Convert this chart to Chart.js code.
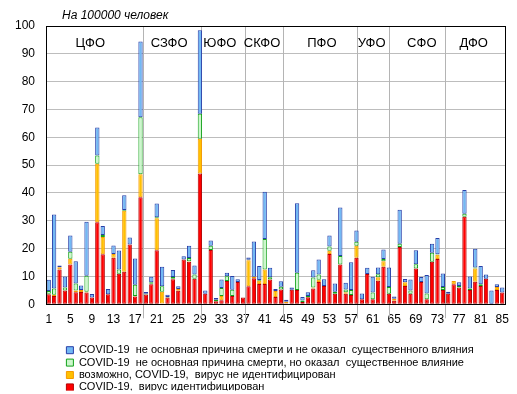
<!DOCTYPE html>
<html>
<head>
<meta charset="utf-8">
<script src="https://cdn.jsdelivr.net/npm/chart.js@4/dist/chart.umd.min.js"></script>
<style>
  html, body { margin: 0; padding: 0; background: #fff; }
  canvas { display: block; }
</style>
</head>
<body>
<canvas id="chart" width="517" height="394"></canvas>
<script>
// region numbers 1..85
const regions = [
    1, 2, 3, 4, 5, 6, 7, 8, 9, 10, 11, 12, 13, 14, 15, 16, 17, 18, 19, 20,
    21, 22, 23, 24, 25, 26, 27, 28, 29, 30, 31, 32, 33, 34, 35, 36, 37, 38, 39, 40,
    41, 42, 43, 44, 45, 46, 47, 48, 49, 50, 51, 52, 53, 54, 55, 56, 57, 58, 59, 60,
    61, 62, 63, 64, 65, 66, 67, 68, 69, 70, 71, 72, 73, 74, 75, 76, 77, 78, 79, 80,
    81, 82, 83, 84, 85
];

// COVID-19, вирус идентифицирован
const identified = [
    3.6, 3.0, 12.5, 5.0, 14.3, 4.3, 4.4, 4.2, 2.4, 29.5,
    18.0, 3.6, 16.7, 11.0, 11.7, 21.5, 2.8, 38.5, 3.5, 7.2,
    19.4, 0.3, 2.4, 9.0, 4.9, 16.1, 15.3, 9.2, 47.0, 3.8,
    19.5, 1.1, 1.5, 8.4, 3.0, 8.0, 2.4, 6.5, 9.4, 7.3,
    7.3, 8.9, 2.6, 5.3, 0.4, 5.2, 5.1, 0.8, 2.5, 5.7,
    8.0, 6.6, 18.1, 3.8, 14.3, 3.8, 3.3, 16.7, 1.8, 10.9,
    1.8, 8.5, 13.5, 3.8, 1.3, 20.6, 6.6, 3.8, 12.9, 8.0,
    1.8, 15.3, 16.3, 5.1, 3.8, 7.2, 6.0, 31.5, 5.1, 8.1,
    6.6, 9.2, 0, 5.1, 4.2
];

// возможно, COVID-19, вирус не идентифицирован
const possible = [
    0.2, 0.4, 0.8, 0, 2.1, 0.7, 0.7, 0.3, 0, 21.0,
    6.2, 0, 1.4, 0, 21.9, 0, 0.2, 8.2, 0, 0.2,
    11.5, 4.2, 0, 0.2, 0.6, 0, 0.2, 0, 12.5, 0,
    0, 0, 1.5, 0, 0, 0, 0, 9.3, 0.5, 1.2,
    5.2, 0, 2.2, 0, 0.5, 0, 0, 0, 0, 0.3,
    0.8, 0, 1.1, 0, 0, 0.5, 0, 4.3, 0, 0,
    0, 1.2, 2.0, 0, 0.7, 0, 1.3, 0, 0, 0,
    0, 0, 1.5, 0, 0, 1.2, 0, 0, 0, 4.8,
    0, 0, 0, 1.1, 0
];

// не основная причина, но оказал существенное влияние
const contributed = [
    1.0, 2.3, 0, 1.0, 2.5, 2.5, 0, 5.8, 0, 3.0,
    0.7, 0, 0, 1.5, 0.3, 0, 4.0, 20.5, 0.3, 0.5,
    0.4, 2.0, 0.2, 0.6, 0, 0, 1.1, 1.5, 9.0, 0,
    1.5, 0.5, 2.9, 1.7, 2.2, 0, 0, 0.2, 0, 0.2,
    11.0, 0.8, 0, 1.0, 0, 0, 6.2, 0.6, 0.5, 3.6,
    1.9, 0, 1.6, 0.7, 3.1, 1.0, 1.8, 1.5, 0, 0,
    2.4, 1.1, 0.8, 2.4, 0, 1.2, 0, 1.2, 1.5, 0,
    2.1, 3.2, 0.2, 1.1, 0, 0, 0.6, 1.0, 0.6, 0.3,
    0.6, 0, 0, 0, 0
];

// не основная причина и не оказал существенного влияния
const noInfluence = [
    4.0, 26.6, 0.6, 4.0, 5.8, 8.0, 1.7, 19.4, 1.3, 10.0,
    3.2, 1.9, 3.0, 6.8, 5.3, 2.5, 9.5, 27.2, 0.6, 2.0,
    4.9, 7.0, 0.8, 2.5, 1.0, 1.2, 4.4, 3.2, 30.0, 1.2,
    1.9, 0.7, 3.0, 1.2, 5.0, 1.0, 0, 0.8, 12.7, 5.1,
    16.9, 3.4, 0.7, 2.0, 0.7, 0.8, 25.0, 1.2, 1.3, 2.6,
    5.4, 2.4, 3.9, 3.0, 17.4, 2.4, 10.0, 4.0, 2.1, 2.2,
    5.7, 2.4, 3.4, 7.0, 0.8, 12.2, 1.2, 3.9, 5.0, 1.8,
    6.6, 3.3, 5.8, 4.9, 0.7, 0, 1.3, 8.6, 4.3, 6.8,
    6.6, 1.5, 5.0, 1.0, 1.8
];

// federal districts: name, where the name sits, where the dividing line sits (region numbers)
const districts = ['ЦФО', 'СЗФО', 'ЮФО', 'СКФО', 'ПФО', 'УФО', 'СФО', 'ДФО'];
const districtLabelAt = [8.7, 23.3, 32.7, 40.5, 51.6, 60.8, 70.1, 79.7];
const districtBorders = [18.4, 29.2, 37.3, 44.4, 58.1, 64.0, 74.4];

const FONT = 'Arial, "Liberation Sans", sans-serif';

const decor = {
    id: 'decor',
    afterLayout(chart) {
        chart.legend.left = 65;
    },
    beforeDatasetsDraw(chart) {
        const {ctx, chartArea: a, scales: {x}} = chart;
        ctx.save();
        ctx.strokeStyle = '#b4b4b4';
        ctx.lineWidth = 1;
        districtBorders.forEach(n => {
            const px = Math.round(x.getPixelForValue(n - 1)) + 0.5;
            ctx.beginPath();
            ctx.moveTo(px, a.top);
            ctx.lineTo(px, a.bottom + 14);
            ctx.stroke();
        });
        ctx.restore();
    },
    afterDraw(chart) {
        const {ctx, chartArea: a, scales: {x}} = chart;
        ctx.save();
        ctx.strokeStyle = '#000';
        ctx.lineWidth = 1;
        ctx.strokeRect(Math.round(a.left) + 0.5, Math.round(a.top) + 0.5,
            Math.round(a.right - a.left), Math.round(a.bottom - a.top));

        ctx.fillStyle = '#000';
        ctx.textBaseline = 'middle';
        ctx.textAlign = 'center';
        ctx.font = '13px ' + FONT;
        districts.forEach((name, i) => {
            ctx.fillText(name, x.getPixelForValue(districtLabelAt[i] - 1), a.top + 17);
        });

        ctx.textAlign = 'left';
        ctx.font = 'italic 12px ' + FONT;
        ctx.fillText('На 100000 человек', a.left + 16, a.top - 10);
        ctx.restore();
    }
};

const ctx = document.getElementById('chart').getContext('2d');

function series(label, values, fill, edge) {
    return {
        label: label,
        data: values.map(v => v || null),
        backgroundColor: fill,
        borderColor: edge,
        borderWidth: 1,
        borderSkipped: false,
        categoryPercentage: 1.0,
        barPercentage: 0.8
    };
}

new Chart(ctx, {
    type: 'bar',
    data: {
        labels: regions,
        datasets: [
            series('COVID-19,  вирус идентифицирован', identified, '#ff0000', '#b40000'),
            series('возможно, COVID-19,  вирус не идентифицирован', possible, '#ffc000', '#f59a00'),
            series('COVID-19  не основная причина смерти, но оказал  существенное влияние', contributed, '#ccf7cc', '#13a21a'),
            series('COVID-19  не основная причина смерти и не оказал  существенного влияния', noInfluence, '#72b8f4', '#283fa8')
        ]
    },
    options: {
        responsive: false,
        animation: false,
        devicePixelRatio: 1,
        layout: { padding: { top: 26, right: 11, bottom: 3.5, left: 4 } },
        scales: {
            x: {
                stacked: true,
                grid: { display: false, drawTicks: false },
                border: { display: true, color: '#000' },
                ticks: {
                    autoSkip: false,
                    maxRotation: 0,
                    padding: 8,
                    color: '#000',
                    font: { family: FONT, size: 12 },
                    callback: (value, index) => index % 4 === 0 ? regions[index] : ''
                },
                afterFit: scale => { scale.height = 39; }
            },
            y: {
                stacked: true,
                min: 0,
                max: 100,
                grid: { color: '#bdbdbd', drawTicks: false },
                border: { display: true, color: '#000' },
                ticks: {
                    stepSize: 10,
                    padding: 11,
                    color: '#000',
                    font: { family: FONT, size: 12 }
                }
            }
        },
        plugins: {
            tooltip: { enabled: false },
            legend: {
                position: 'bottom',
                align: 'start',
                reverse: true,
                labels: {
                    boxWidth: 7,
                    boxHeight: 7,
                    padding: 1.4,
                    color: '#000',
                    font: { family: FONT, size: 11 }
                }
            }
        }
    },
    plugins: [decor]
});
</script>
</body>
</html>
